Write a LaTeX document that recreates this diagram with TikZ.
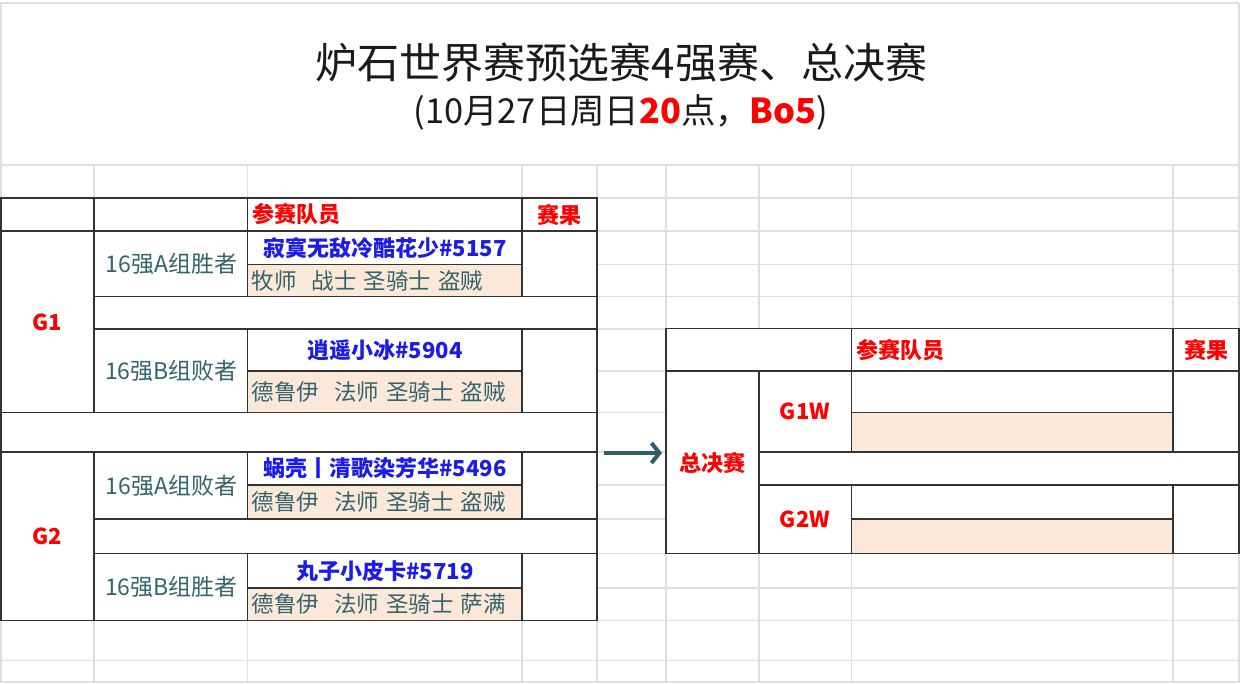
\documentclass[tikz,border=0pt]{standalone}
\usepackage{fontspec}
\setmainfont{Noto Sans CJK SC}
\usetikzlibrary{arrows.meta}
\definecolor{gridc}{HTML}{DEDFE3}
\definecolor{bordc}{HTML}{333333}
\definecolor{peach}{HTML}{FCE8D9}
\definecolor{tealtx}{HTML}{33646B}
\definecolor{nameblue}{HTML}{1C1CE8}
\definecolor{hred}{HTML}{FF0000}
\definecolor{arrowc}{HTML}{2E5E69}
\definecolor{titlec}{HTML}{1A1A1A}
\newcommand{\onesp}{\hspace{7pt}}
\newcommand{\twosp}{\hspace{15pt}}
\begin{document}
\begin{tikzpicture}[x=1pt,y=-1pt,
  gridln/.style={draw=gridc, line width=1.2pt},
  cell/.style={draw=bordc, line width=1.3pt, fill=white},
  pcell/.style={draw=bordc, line width=1.3pt, fill=peach},
  lbl/.style={font=\fontsize{23}{23}\selectfont, text=tealtx, inner sep=0pt},
  nm/.style={font=\fontsize{22}{22}\selectfont\bfseries, text=nameblue, inner sep=0pt},
  cls/.style={font=\fontsize{22.5}{22.5}\selectfont, text=tealtx, inner sep=0pt, anchor=west},
  hdr/.style={font=\fontsize{22}{22}\selectfont\bfseries, text=hred, inner sep=0pt},
]
\useasboundingbox (0,0) rectangle (1241,683);
\fill[white] (0,0) rectangle (1241,683);
% background grid
\draw[gridln] (0,3) -- (1239,3);
\foreach \yy in {165,198,231,264.5,296.5,329,371,412.5,452,485,519,553.5,588,620.5,660.5,682}
  \draw[gridln] (0,\yy) -- (1239,\yy);
\draw[gridln] (1,3) -- (1,683);
\draw[gridln] (1239,3) -- (1239,683);
\foreach \xx in {94,247.5,522,597,666,759,851.5,1173}
  \draw[gridln] (\xx,165) -- (\xx,683);
% left table cells
\draw[cell] (1,198) rectangle (94,231);
\draw[cell] (94,198) rectangle (247.5,231);
\draw[cell] (247.5,198) rectangle (522,231);
\draw[cell] (522,198) rectangle (597,231);
\draw[cell] (1,231) rectangle (94,412.5);
\draw[cell] (94,231) rectangle (247.5,296.5);
\draw[cell] (247.5,231) rectangle (522,264.5);
\draw[pcell] (247.5,264.5) rectangle (522,296.5);
\draw[cell] (522,231) rectangle (597,296.5);
\draw[cell] (94,296.5) rectangle (597,329);
\draw[cell] (94,329) rectangle (247.5,412.5);
\draw[cell] (247.5,329) rectangle (522,371);
\draw[pcell] (247.5,371) rectangle (522,412.5);
\draw[cell] (522,329) rectangle (597,412.5);
\draw[cell] (1,412.5) rectangle (597,452);
\draw[cell] (1,452) rectangle (94,620.5);
\draw[cell] (94,452) rectangle (247.5,519);
\draw[cell] (247.5,452) rectangle (522,485);
\draw[pcell] (247.5,485) rectangle (522,519);
\draw[cell] (522,452) rectangle (597,519);
\draw[cell] (94,519) rectangle (597,553.5);
\draw[cell] (94,553.5) rectangle (247.5,620.5);
\draw[cell] (247.5,553.5) rectangle (522,588);
\draw[pcell] (247.5,588) rectangle (522,620.5);
\draw[cell] (522,553.5) rectangle (597,620.5);
\draw[bordc, line width=2pt] (1,198) -- (597,198);
% right table cells
\draw[cell] (666,328.5) rectangle (851.5,371);
\draw[cell] (851.5,328.5) rectangle (1173,371);
\draw[cell] (1173,328.5) rectangle (1239,371);
\draw[cell] (666,371) rectangle (759,553.5);
\draw[cell] (759,371) rectangle (851.5,452);
\draw[cell] (851.5,371) rectangle (1173,412.5);
\draw[pcell] (851.5,412.5) rectangle (1173,452);
\draw[cell] (1173,371) rectangle (1239,452);
\draw[cell] (759,452) rectangle (1239,485);
\draw[cell] (759,485) rectangle (851.5,553.5);
\draw[cell] (851.5,485) rectangle (1173,519);
\draw[pcell] (851.5,519) rectangle (1173,553.5);
\draw[cell] (1173,485) rectangle (1239,553.5);
% title
\node[font=\fontsize{42}{42}\selectfont, text=titlec, inner sep=0pt] (title) at (621.5,63) {炉石世界赛预选赛4强赛、总决赛};
\node[font=\fontsize{34.4}{34.4}\selectfont, text=titlec, inner sep=0pt] (subtitle) at (621,112)
  {(10月27日周日{\color{hred}\bfseries 20}点，{\color{hred}\bfseries Bo5})};
% left table text
\node[hdr, anchor=west] (lh1) at (252,214.5) {参赛队员};
\node[hdr] (lh2) at (559.5,214.5) {赛果};
\node[hdr] (g1) at (47,322) {G1};
\node[hdr] (g2) at (47,536) {G2};
\node[lbl] (la) at (171.5,264) {16强A组胜者};
\node[nm] (na) at (385,248) {寂寞无敌冷酷花少\#5157};
\node[cls] (ca) at (251.5,281) {牧师\twosp 战士\onesp 圣骑士\onesp 盗贼};
\node[lbl] (lb) at (171.5,371) {16强B组败者};
\node[nm] (nb) at (385,350) {逍遥小冰\#5904};
\node[cls] (cb) at (251.5,392) {德鲁伊\twosp 法师\onesp 圣骑士\onesp 盗贼};
\node[lbl] (lc) at (171.5,486) {16强A组败者};
\node[nm] (nc) at (385,468.5) {蜗壳丨清歌染芳华\#5496};
\node[cls] (cc) at (251.5,502) {德鲁伊\twosp 法师\onesp 圣骑士\onesp 盗贼};
\node[lbl] (ld) at (171.5,587) {16强B组胜者};
\node[nm] (nd) at (385,571) {丸子小皮卡\#5719};
\node[cls] (cd) at (251.5,604) {德鲁伊\twosp 法师\onesp 圣骑士\onesp 萨满};
% right table text
\node[hdr, anchor=west] (rh1) at (856,350) {参赛队员};
\node[hdr] (rh2) at (1206,350) {赛果};
\node[hdr] (final) at (712.5,463) {总决赛};
\node[hdr] (g1w) at (805,411.5) {G1W};
\node[hdr] (g2w) at (805,519.5) {G2W};
% arrow
\coordinate (arrS) at (604,453);
\coordinate (arrE) at (662,453);
\draw[arrowc, line width=4pt, -{Straight Barb[length=8pt,width=20pt,line width=4pt]}] (arrS) -- (arrE);
\end{tikzpicture}
\end{document}
